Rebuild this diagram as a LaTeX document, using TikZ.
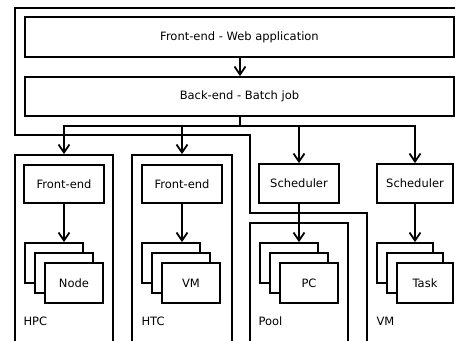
\documentclass[tikz,border=0pt]{standalone}
\usepackage{fontspec}
\setmainfont{DejaVu Sans}
\usetikzlibrary{arrows.meta}
\begin{document}
\begin{tikzpicture}[x=1pt,y=-1pt,
  every node/.style={font=\fontsize{11.5}{13}\selectfont, inner sep=0pt},
  box/.style={draw, line width=1.8pt, fill=white, rectangle},
  cont/.style={draw, line width=1.8pt, rectangle},
  wire/.style={line width=1.8pt},
  arr/.style={wire, -{Straight Barb[length=8pt,width=11pt]}},
  card/.style={box, minimum width=58pt, minimum height=40pt},
  tcard/.style={box, minimum width=56pt, minimum height=40pt},
  lbl/.style={anchor=base west},
]
\useasboundingbox (0,0) rectangle (455,340);
\clip (0,0) rectangle (455,340);

% VM container: wraps the application tiers and the right-hand column
\draw[wire] (15,8) -- (470,8) -- (470,360) -- (367,360) -- (367,213)
  -- (250,213) -- (250,135) -- (15,135) -- cycle;

% application tiers
\node[box, minimum width=429pt, minimum height=40pt] (web) at (239.5,37) {Front-end - Web application};
\node[box, minimum width=429pt, minimum height=39pt] (batch) at (239.5,96.5) {Back-end - Batch job};
\coordinate (bus) at (240,126);
\draw[arr] (web.south -| bus) -- (batch.north -| bus);

% resource containers
\node[cont, minimum width=98pt, minimum height=215pt] (hpc) at (64,262.5) {};
\node[cont, minimum width=100pt, minimum height=215pt] (htc) at (182,262.5) {};
\node[cont, minimum width=98pt, minimum height=147pt] (pool) at (299,296.5) {};

% entry points
\node[box, minimum width=80pt, minimum height=38pt] (fe1) at (64,184) {Front-end};
\node[box, minimum width=80pt, minimum height=38pt] (fe2) at (182,184) {Front-end};
\node[box, minimum width=80pt, minimum height=39pt] (s1) at (299,183.5) {Scheduler};
\node[box, minimum width=76pt, minimum height=39pt] (s2) at (415,183.5) {Scheduler};

% distribution bus from the batch job
\draw[wire] (batch.south -| bus) -- (bus);
\draw[wire, line cap=rect] (hpc.north |- bus) -- (s2.north |- bus);
\draw[arr] (hpc.north |- bus) -- (hpc.north);
\draw[arr] (htc.north |- bus) -- (htc.north);
\draw[arr] (s1.north |- bus) -- (s1.north);
\draw[arr] (s2.north |- bus) -- (s2.north);

% worker stacks
\node[card] (n1) at (54,263) {};
\node[card] (n2) at (64,273) {};
\node[card] (n3) at (74,283) {Node};

\node[card] (v1) at (171,263) {};
\node[card] (v2) at (181,273) {};
\node[card] (v3) at (191,283) {VM};

\node[card] (p1) at (289,263) {};
\node[card] (p2) at (299,273) {};
\node[card] (p3) at (309,283) {PC};

\node[tcard] (t1) at (405,263) {};
\node[tcard] (t2) at (415,273) {};
\node[tcard] (t3) at (425,283) {Task};

\draw[arr] (fe1) -- (fe1 |- n1.north);
\draw[arr] (fe2) -- (fe2 |- v1.north);
\draw[arr] (s1) -- (s1 |- p1.north);
\draw[arr] (s2) -- (s2 |- t1.north);

% container labels
\node[lbl] (hpcl) at (23.3,325) {HPC};
\node[lbl] (htcl) at (141.3,325) {HTC};
\node[lbl] (pooll) at (258.3,325) {Pool};
\node[lbl] (vml) at (376.3,325) {VM};
\end{tikzpicture}
\end{document}
